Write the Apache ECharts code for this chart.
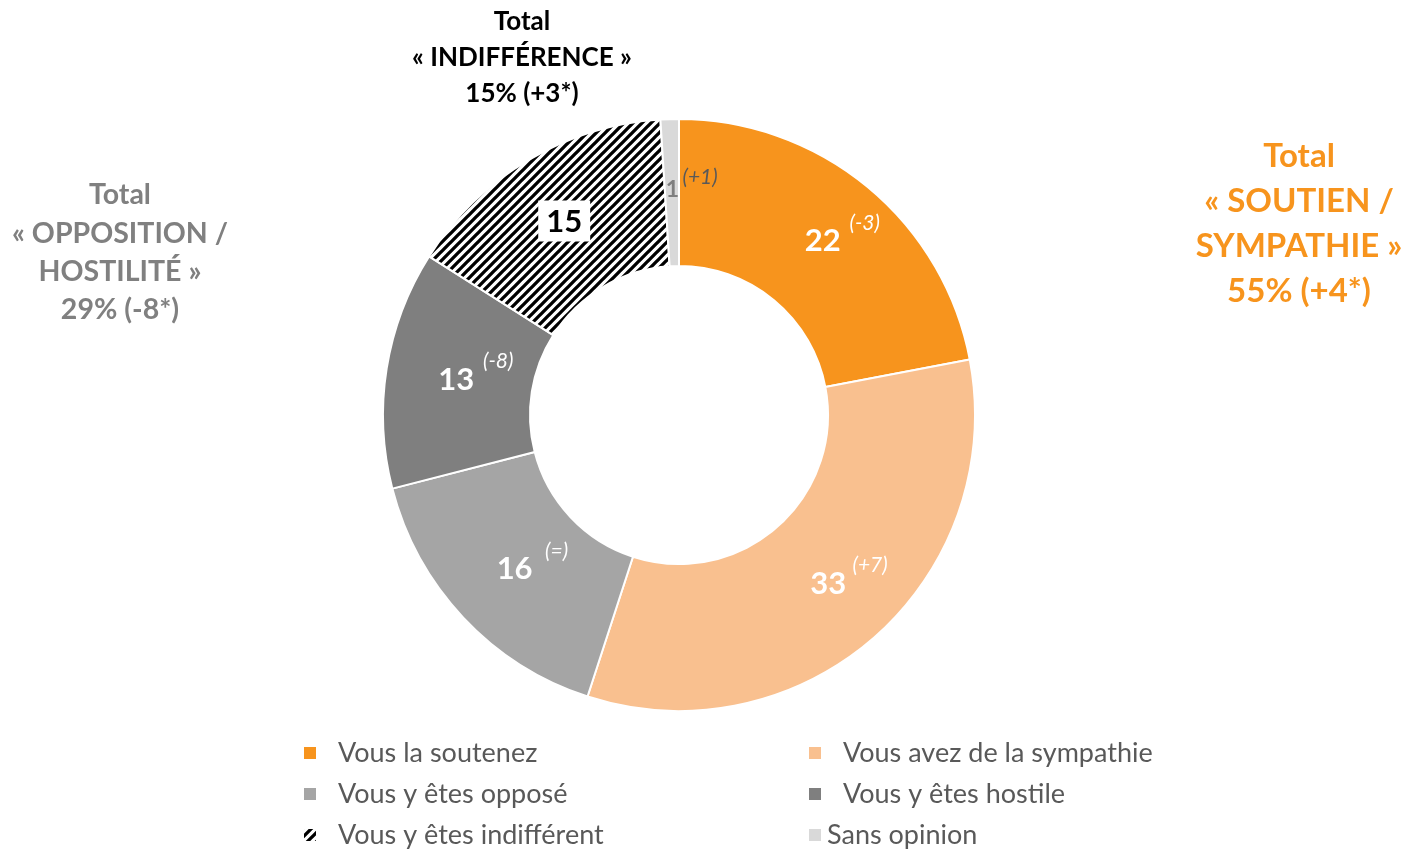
<!DOCTYPE html>
<html>
<head>
<meta charset="utf-8">
<script src="https://cdn.jsdelivr.net/npm/echarts@6/dist/echarts.min.js"></script>
<style>
html,body{margin:0;padding:0;background:#fff;}
#chart{width:1404px;height:849px;}
</style>
</head>
<body>
<div id="chart"></div>
<script>
// ---- data ----
const categories = ['Vous la soutenez', 'Vous avez de la sympathie', 'Vous y êtes opposé', 'Vous y êtes hostile', 'Vous y êtes indifférent', 'Sans opinion'];
const values = [22, 33, 16, 13, 15, 1];
const changes = ['(-3)', '(+7)', '(=)', '(-8)', '', '(+1)'];
const totalSupport = ['Total', '« SOUTIEN /', 'SYMPATHIE »', '55% (+4*)'];
const totalOpposition = ['Total', '« OPPOSITION /', 'HOSTILITÉ »', '29% (-8*)'];
const totalIndiff = ['Total', '« INDIFFÉRENCE »', '15% (+3*)'];

// ---- styles ----
const FONT = 'Lato, "Open Sans", sans-serif';
const colors = ['#F7941D', '#F9C08F', '#A5A5A5', '#7F7F7F', null, '#D9D9D9'];

function makeHatch() {
  const p = 9;
  const c = document.createElement('canvas');
  c.width = p; c.height = p;
  const g = c.getContext('2d');
  g.fillStyle = '#fff'; g.fillRect(0, 0, p, p);
  g.strokeStyle = '#000'; g.lineWidth = 3.3;
  g.beginPath();
  for (let k = -1; k <= 1; k++) {
    g.moveTo(-3 + k * p, p + 3); g.lineTo(p + 3 + k * p, -3);
  }
  g.stroke();
  return c;
}
const hatch = { image: makeHatch(), repeat: 'repeat' };

function labelFor(i) {
  if (i === 4) {
    return {
      formatter: p => '{b|' + p.value + '}',
      rich: { b: { fontFamily: FONT, fontWeight: 'bold', fontSize: 31, color: '#000', backgroundColor: '#fff', padding: [6, 8, 4, 8] } }
    };
  }
  const small = i === 5;
  const vColor = small ? '#7F7F7F' : '#fff';
  const sColor = small ? '#595959' : '#fff';
  return {
    formatter: p => '{sp| }{v|' + p.value + '}{s|' + changes[p.dataIndex] + '}',
    rich: {
      sp: { width: small ? 42 : 44, fontSize: 12, lineHeight: 12 },
      v: { fontFamily: FONT, fontWeight: 'bold', fontSize: small ? 23 : 31, color: vColor, lineHeight: small ? 46 : 58, verticalAlign: 'middle' },
      s: { fontFamily: FONT, fontStyle: 'italic', fontSize: 21, color: sColor, width: 40, padding: [0, 0, 0, small ? 1 : 4], lineHeight: 22, verticalAlign: 'top', align: 'left' }
    }
  };
}

const seriesData = categories.map((name, i) => ({
  name: name,
  value: values[i],
  itemStyle: { color: i === 4 ? hatch : colors[i] },
  label: labelFor(i)
}));

const legendText = { fontFamily: FONT, fontSize: 27, color: '#595959', lineHeight: 30 };
const legendPos = [
  [302, 738, 16], [807, 738, 16],
  [302, 779, 16], [807, 779, 16],
  [302, 820, 16], [807, 820, 0]
];
const legendOrder = [0, 1, 2, 3, 4, 5];

const chart = echarts.init(document.getElementById('chart'), null, { renderer: 'canvas' });
chart.setOption({
  animation: false,
  backgroundColor: '#fff',
  legend: legendOrder.map((ci, k) => ({
    data: [categories[ci]],
    orient: 'horizontal',
    left: legendPos[k][0], top: legendPos[k][1],
    padding: 0,
    itemWidth: 14, itemHeight: 14, icon: 'rect',
    selectedMode: false,
    textStyle: Object.assign({ padding: [0, 0, 0, legendPos[k][2]] }, legendText)
  })),
  graphic: [
    { type: 'text', x: 522, y: 4, style: { text: totalIndiff.join('\n'), align: 'center', textAlign: 'center', font: 'bold 26px ' + FONT, lineHeight: 36, fill: '#000' } },
    { type: 'text', x: 120, y: 176, style: { text: totalOpposition.join('\n'), align: 'center', textAlign: 'center', font: 'bold 28.5px ' + FONT, lineHeight: 38.3, fill: '#808080' } },
    { type: 'text', x: 1299, y: 134, style: { text: totalSupport.join('\n'), align: 'center', textAlign: 'center', font: 'bold 33px ' + FONT, lineHeight: 45, fill: '#F7941D' } }
  ],
  series: [{
    type: 'pie',
    center: [679, 415],
    radius: [149, 296],
    startAngle: 90,
    clockwise: true,
    avoidLabelOverlap: false,
    itemStyle: { borderColor: '#fff', borderWidth: 2 },
    label: { show: true, position: 'inside' },
    labelLine: { show: false },
    emphasis: { disabled: true },
    data: seriesData
  }]
});
</script>
</body>
</html>
